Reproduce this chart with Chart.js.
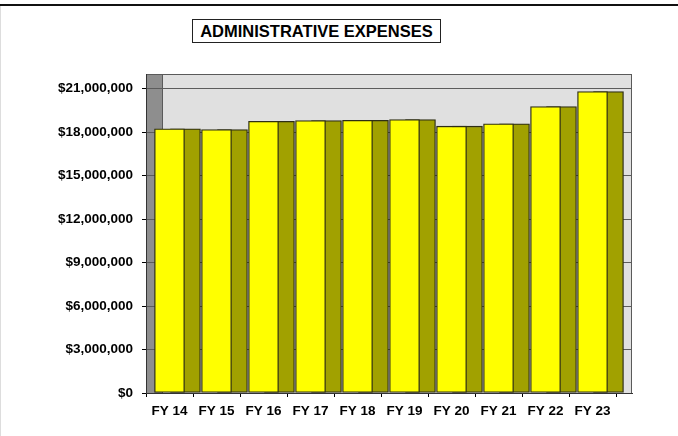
<!DOCTYPE html>
<html>
<head>
<meta charset="utf-8">
<script src="https://cdn.jsdelivr.net/npm/chart.js@4.4.0/dist/chart.umd.min.js"></script>
<style>
    body { margin: 0; background: #fff; }
    #wrap { position: relative; width: 678px; height: 436px; overflow: hidden; }
    #wrap canvas { position: absolute; left: 0; top: 0; }
    #topRule { position: absolute; left: 0; top: 4px; width: 678px; height: 2px; background: #111; }
    #leftRule { position: absolute; left: 0; top: 6px; width: 1px; height: 430px; background: #ddd; }
    #title {
        position: absolute; left: 192px; top: 19px; width: 247px; height: 22px;
        border: 1px solid #222; background: #fff;
        font: bold 16.5px "Liberation Sans", Arial, sans-serif;
        line-height: 22px; text-align: center; color: #000;
    }
</style>
</head>
<body>
<div id="wrap">
    <canvas id="expChart" width="678" height="436"></canvas>
    <div id="topRule"></div>
    <div id="leftRule"></div>
    <div id="title">ADMINISTRATIVE EXPENSES</div>
</div>
<script>
// Data
const categories = ['FY 14', 'FY 15', 'FY 16', 'FY 17', 'FY 18', 'FY 19', 'FY 20', 'FY 21', 'FY 22', 'FY 23'];
const expenses = [18220000, 18170000, 18740000, 18790000, 18810000, 18860000, 18400000, 18560000, 19760000, 20790000];
const yTicks = [0, 3000000, 6000000, 9000000, 12000000, 15000000, 18000000, 21000000];
const yMax = 22000000;
const depth = 0.34; // depth of the 3D side face, in category widths

const tickFont = { family: '"Liberation Sans", Arial, sans-serif', size: 13.5, weight: 'bold' };

// Left and back walls behind the bars
const wallsPlugin = {
    id: 'walls',
    beforeDraw(chart) {
        const { ctx, chartArea } = chart;
        const backLeft = chart.scales.x2.getPixelForValue(-0.5);
        const h = chartArea.bottom - chartArea.top;
        ctx.save();
        ctx.fillStyle = '#e0e0e0';
        ctx.fillRect(backLeft, chartArea.top, chartArea.right - backLeft, h);
        ctx.fillStyle = '#8e8e8e';
        ctx.fillRect(chartArea.left, chartArea.top, backLeft - chartArea.left, h);
        ctx.strokeStyle = '#5a5a5a';
        ctx.lineWidth = 1;
        ctx.strokeRect(chartArea.left + 0.5, chartArea.top + 0.5, chartArea.right - chartArea.left - 1, h);
        ctx.beginPath();
        ctx.moveTo(Math.round(backLeft) + 0.5, chartArea.top);
        ctx.lineTo(Math.round(backLeft) + 0.5, chartArea.bottom);
        ctx.stroke();
        ctx.restore();
    }
};

const points = expenses.map((v, i) => ({ x: i, y: v }));

const expChart = new Chart(document.getElementById('expChart').getContext('2d'), {
    type: 'bar',
    data: {
        datasets: [
            {
                label: 'front',
                data: points,
                xAxisID: 'x',
                grouped: false,
                backgroundColor: '#ffff00',
                borderColor: '#2e2e14',
                borderWidth: 1.3,
                borderSkipped: false,
                barThickness: 30
            },
            {
                label: 'side',
                data: points,
                xAxisID: 'x2',
                grouped: false,
                backgroundColor: '#a1a100',
                borderColor: '#2e2e14',
                borderWidth: 1.3,
                borderSkipped: false,
                barThickness: 30
            }
        ]
    },
    options: {
        responsive: false,
        animation: false,
        layout: { padding: { left: 0, right: 46, top: 74, bottom: 0 } },
        plugins: { legend: { display: false }, tooltip: { enabled: false } },
        scales: {
            x: {
                type: 'linear',
                offset: false,
                min: -0.5,
                max: 9.5 + depth,
                afterBuildTicks: s => {
                    s.ticks = categories.map((c, i) => ({ value: i - 0.5 })).concat([{ value: 9.5 }]);
                },
                afterFit: s => { s.height = 43; },
                ticks: {
                    autoSkip: false,
                    maxRotation: 0,
                    labelOffset: 23.5,
                    padding: 6,
                    color: '#000',
                    font: tickFont,
                    callback: (v, i) => categories[i] || ''
                },
                grid: { offset: false, drawOnChartArea: false, tickLength: 4, tickColor: '#000' },
                border: { color: '#333' }
            },
            x2: {
                type: 'linear',
                display: false,
                offset: false,
                min: -0.5 - depth,
                max: 9.5
            },
            y: {
                min: 0,
                max: yMax,
                afterBuildTicks: s => { s.ticks = yTicks.map(v => ({ value: v })); },
                afterFit: s => { s.width = 146; },
                ticks: {
                    padding: 9,
                    color: '#000',
                    font: tickFont,
                    callback: v => '$' + v.toString().replace(/\B(?=(\d{3})+(?!\d))/g, ',')
                },
                grid: { color: '#5c5c5c', tickLength: 4, tickColor: '#000' },
                border: { color: '#333' }
            }
        }
    },
    plugins: [wallsPlugin]
});
</script>
</body>
</html>
